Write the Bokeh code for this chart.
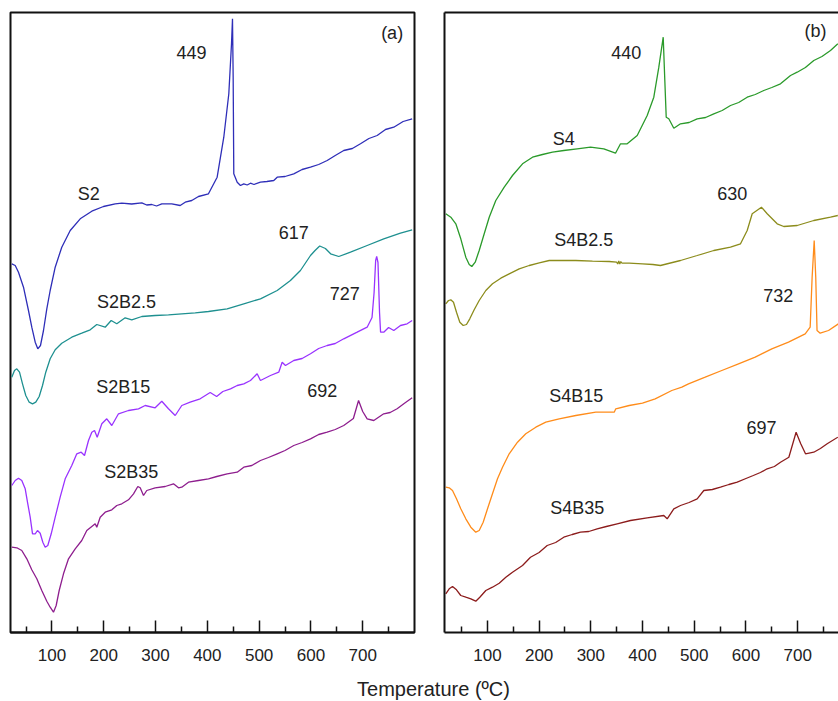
from bokeh.plotting import figure
from bokeh.models import FixedTicker, LinearAxis, Label
from bokeh.layouts import column, row
from bokeh.embed import file_html
from bokeh.resources import INLINE
from bokeh.core.properties import value

FONT = "Liberation Sans"

# ---------------- data (temperature in ºC, DTA signal in arbitrary units, curves offset) -------------
major_ticks = [100, 200, 300, 400, 500, 600, 700]
minor_ticks = [50, 150, 250, 350, 450, 550, 650, 750]

# Panel (a)
S2_T = [22.5, 29.1, 35.4, 45.1, 54.7, 61.1, 67.7, 72.7, 77.9, 83.7, 90.1, 96.6, 106.3, 119, 135.3,
        154.6, 177, 199.5, 222.1, 234.9, 254, 273.5, 283, 292.8, 302, 312.1, 331.4, 347.6, 357.3,
        370, 382.9, 402.2, 419, 431.8, 441.5, 446.7, 448.6, 449.9, 451.1, 457.7, 464, 470.4, 477,
        483.3, 490, 502.6, 515, 528.3, 534.9, 550, 566.9, 583, 599.2, 615, 631.4, 647, 663.4, 680,
        695.7, 712, 727.9, 744, 760, 778, 795.5]
S2_y = [368.7, 367, 360.3, 345.3, 322, 305.3, 290.3, 283.7, 287, 302, 323.7, 342, 365.3, 385.3, 402,
        413.7, 421.3, 426, 428.7, 429.3, 428.5, 429.7, 427.5, 428, 426.5, 428.7, 428.7, 427, 430.3,
        432, 436, 438.7, 455.3, 495.3, 538.7, 588.7, 613.7, 555.3, 458.7, 450.3, 447, 448.7, 447.5,
        449.3, 448, 450.3, 451, 452, 455.3, 456, 458.7, 463, 465.3, 468, 472, 477, 482, 484,
        488.7, 494, 497, 503, 505.3, 511, 513.7]

S2B25_T = [22.5, 27.7, 32.2, 37.4, 43.2, 49.5, 56.1, 62.5, 68.8, 75.4, 81.8, 88.1, 96.6, 106.3, 119,
           138.3, 157.6, 173.9, 186.6, 202.8, 214.4, 225.2, 241.4, 254.2, 273.5, 299.3, 325, 350.7,
           376.6, 402.2, 438.3, 470.4, 502.6, 534.9, 560.5, 579.8, 599.2, 608, 617, 628, 638,
           653.8, 676.4, 708.6, 740.6, 772.9, 795.5]
S2B25_y = [255.3, 262, 263.7, 260.3, 248.7, 237, 230.3, 228.7, 230.3, 236, 247, 260.3, 273.7, 282.7,
           289.3, 295.3, 299.3, 302.7, 308, 305.3, 312, 308.7, 314.7, 312.7, 316, 317, 317.7, 318.7,
           319.7, 321, 323.7, 328.7, 333.7, 342, 352, 362, 377, 382, 386.5, 384, 378.7,
           376, 380.3, 387, 393.7, 399.3, 402.7]

S2B15_T = [22.5, 29.1, 35.4, 41.8, 48.4, 53.4, 58, 62.5, 67.7, 72.1, 77.3, 82.4, 87, 92, 98.6,
           106.3, 115.9, 125.6, 138.3, 148, 156.5, 162.9, 170.6, 177, 182.2, 187.4, 196.3, 205.9,
           215.6, 228.5, 247.8, 267.1, 280, 299.3, 312.1, 325, 338, 350.7, 366.9, 386.2, 405.5,
           418, 430, 444.7, 457.7, 470.4, 483.3, 496.2, 502.6, 521.9, 537.9, 544.5, 550.9, 566.9,
           583, 599.2, 615, 631.4, 647, 663.4, 689.3, 708.6, 718, 722, 725, 727, 729.5, 732.5,
           734.5, 740.6, 750, 760, 772.9, 785.8, 795.5]
S2B15_y = [147, 152, 154.3, 152, 143.7, 128.7, 115.3, 98.7, 98.7, 102, 99.3, 90.3, 85.3, 87, 98.7,
           115.3, 135.3, 153.7, 167, 178.7, 180.3, 177, 192, 200.3, 202, 195.3, 208.7, 213.7,
           207, 218.7, 222, 223.7, 227, 224.7, 231.3, 223.7, 217, 227, 230.3, 233.7, 240,
           236, 241, 243.7, 247, 248.7, 252, 258.7, 252, 257, 260.3, 270.3, 267, 272,
           274, 278.7, 284, 287, 289, 293.7, 300.3, 305.3, 315, 340, 372, 376, 370, 320,
           300.3, 300.3, 305, 302, 307, 308.7, 312]

S2B35_T = [22.5, 32.2, 41.8, 51.5, 61.1, 70.8, 80.4, 90.1, 96.6, 103, 108.2, 114, 122.3, 132, 144.9,
           157.6, 167.3, 177, 183.5, 186.6, 193.2, 202.8, 215.6, 225.2, 234.9, 247.8, 257.5, 265.8,
           270.4, 276.8, 283.1, 299.3, 318.6, 334.7, 344.3, 350.7, 363.6, 382.9, 402.2, 418.3,
           438.3, 457.7, 470.4, 486, 502.6, 518, 534.9, 550, 566.9, 583, 599.2, 615, 631.4, 647,
           663.4, 682, 692, 700, 708.6, 721.4, 740.6, 753, 766.4, 780, 795.5]
S2B35_y = [85.3, 84.7, 82, 73.7, 62.7, 53.7, 42, 31.3, 25.3, 20.3, 27, 42, 58.7, 73.7, 83.7,
           92, 102, 106, 108.7, 105.3, 115.3, 120.3, 122.7, 127, 128.7, 132.7, 138.7, 146,
           144.7, 137, 142, 144.7, 146, 148.7, 144.7, 145.3, 150.3, 152, 153.7, 156,
           158.7, 160.3, 165.3, 167, 172, 175, 178.7, 182, 187, 190, 193.7, 198, 200.3, 203,
           207, 214, 232, 221, 213.7, 212, 218.7, 220, 223.7, 229, 234.7]

# Panel (b)
S4_T = [19.5, 29.2, 38.9, 48.5, 58.2, 64.8, 69.8, 76.4, 84.1, 93.8, 103.5, 116.2, 132.5, 148.5,
        167.9, 187.2, 206.5, 225.9, 247.7, 273.6, 299.4, 325.1, 347.7, 357.4, 370.3, 389.7, 409,
        421.8, 431.5, 440, 443.1, 445.8, 450.8, 460.5, 473.4, 490, 505.7, 522, 537.8, 554, 570.1,
        586, 602.4, 618, 634.5, 650, 666.8, 686.2, 699.1, 715, 731.2, 747, 763.5, 777.7]
S4_y = [418.7, 415.3, 408.7, 393.7, 375.3, 368, 366, 370.3, 382, 398.7, 415.3, 432, 445.3, 457,
        468.7, 475.3, 478, 480.3, 482, 483.7, 485.3, 483.7, 479.3, 488.7, 488.7, 497, 517,
        535.3, 565.3, 595.3, 552, 515.3, 513.7, 504.3, 508.7, 510, 513.7, 515, 518.7, 522, 527,
        530, 535.3, 538, 542, 545, 548.7, 557, 560.3, 565, 572, 576, 582, 588.7]

S4B25_T = [19.5, 24.7, 29.2, 34.4, 40.2, 46.6, 53.2, 59.5, 65.9, 74.4, 84.1, 96.9, 109.8, 125.9,
           142.1, 161.5, 180.8, 200.2, 219.5, 238.8, 270.9, 303.2, 335.5, 350, 352, 354, 356, 358,
           360, 374.2, 399.9, 420, 434.7, 450, 473.4, 505.7, 537.8, 570.1, 589.5, 602.4, 612.1, 630,
           641.1, 660.4, 673.2, 699.1, 731.2, 763.5, 777.7]
S4B25_y = [328.7, 332, 332.7, 330.3, 320.3, 310.3, 307, 308, 313.7, 322.7, 332, 342, 348.7, 354.3,
           358.7, 363.7, 367, 369.7, 372, 372, 372, 371.3, 371, 370.3, 368.5, 371.5, 368.5, 371,
           369.5, 369.3, 368.7, 368, 367, 369, 372, 377, 382, 385.3, 388.7, 402, 418.7, 425.3,
           418.7, 408.7, 406, 407, 412, 415.3, 417]

S4B15_T = [19.5, 26.1, 32.5, 40.2, 48.5, 58.2, 67.9, 77.5, 84.1, 91.8, 100.2, 109.8, 119.5, 129.2,
           142.1, 158.2, 174.2, 193.6, 212.9, 238.8, 270.9, 309.6, 345.2, 348.3, 374.2, 399.9, 424.5,
           456.6, 476, 488.9, 521.2, 553.3, 585.6, 617.9, 650, 682.3, 714.6, 724.2, 728, 732, 735,
           737.5, 743.6, 759.7, 779]
S4B15_y = [145.3, 144.7, 142, 133.7, 123.7, 113.7, 105.3, 100.3, 102, 110.3, 123.7, 138.7, 153.7,
           165.3, 178.7, 190.3, 198.7, 205.3, 210.3, 213.7, 217, 220.3, 220.3, 223.7, 227, 229.3,
           233.7, 242, 245.3, 248.7, 255.3, 262, 268.7, 275.3, 283.7, 290.3, 298.7, 305.3, 355.3,
           392, 355.3, 302, 299.3, 302, 308.7]

S4B35_T = [19.5, 26.1, 32.5, 40.2, 48.5, 58.2, 67.9, 77.5, 85.3, 96.9, 109.8, 122.8, 135.6, 148.5,
           167.9, 183.3, 200, 215.6, 232, 247.7, 264, 280, 296, 312.3, 330, 351, 376.7, 409, 441.1,
           447.7, 460.5, 473.4, 490, 505.7, 518.5, 535, 550.8, 567, 583.1, 600, 614.2, 628, 641.1,
           655, 666.8, 683, 697, 706, 715.2, 731.2, 744, 757.1, 777.7]
S4B35_y = [38.7, 43.7, 46, 42.7, 37, 35.3, 33.7, 31.3, 35.3, 42, 45.3, 49.3, 55.3, 60.3,
           67, 75.3, 80, 87, 90, 95.3, 98, 100.3, 101, 103.7, 106, 108.7, 112, 114.7, 117,
           113.7, 123.7, 127, 130, 133.7, 142, 143, 145.3, 148, 150.3, 154, 157, 160, 163.7,
           166, 170.3, 175.3, 200.3, 188.7, 178.7, 180.3, 184, 188.7, 195.3]

labels_a_text = ["449", "S2", "617", "S2B2.5", "727", "S2B15", "692", "S2B35", "(a)"]
labels_a_x = [369.5, 171.2, 567, 244, 665.4, 237.5, 621.7, 253, 756.8]
labels_a_y = [580, 438.7, 400.3, 330.3, 338.7, 245.3, 242, 160.3, 600]

labels_b_text = ["440", "S4", "630", "S4B2.5", "732", "S4B15", "697", "S4B35", "(b)"]
labels_b_x = [368.4, 247.7, 573.4, 286.4, 662.4, 271.7, 630.1, 273.6, 734.5]
labels_b_y = [580.3, 493.7, 438.7, 392.7, 337, 237, 205.3, 124.7, 602]

x_label = "Temperature (ºC)"

series_a = [(S2_T, S2_y, "#2e2eb8"), (S2B25_T, S2B25_y, "#1e9090"),
            (S2B15_T, S2B15_y, "#9933ff"), (S2B35_T, S2B35_y, "#8e1e8e")]
series_b = [(S4_T, S4_y, "#2a9a2a"), (S4B25_T, S4B25_y, "#8c8c1c"),
            (S4B15_T, S4B15_y, "#ff8c1a"), (S4B35_T, S4B35_y, "#8c1c1c")]

FRAME = "#111111"


def style_xaxis(ax):
    ax.ticker = FixedTicker(ticks=major_ticks, minor_ticks=minor_ticks)
    ax.axis_line_width = 2
    ax.axis_line_color = FRAME
    ax.major_tick_in = 12
    ax.major_tick_out = 0
    ax.minor_tick_in = 6
    ax.minor_tick_out = 0
    ax.major_tick_line_width = 1.5
    ax.minor_tick_line_width = 1.5
    ax.major_tick_line_color = FRAME
    ax.minor_tick_line_color = FRAME
    ax.major_label_text_font = FONT
    ax.major_label_text_font_size = "17px"
    ax.major_label_text_color = "#222222"
    ax.major_label_standoff = 16


def bare_axis():
    return LinearAxis(ticker=FixedTicker(ticks=[], minor_ticks=[]),
                      axis_line_width=2, axis_line_color=FRAME,
                      major_tick_line_color=None, minor_tick_line_color=None,
                      major_tick_in=0, major_tick_out=0, minor_tick_in=0, minor_tick_out=0,
                      major_label_standoff=0, axis_label_standoff=0)


def make_panel(width, xr, mbl, mbr, series, lt, lx, ly, outline):
    p = figure(width=width, height=670, x_range=xr, y_range=(0, 620),
               output_backend="svg", toolbar_location=None, y_axis_location=None,
               min_border_left=mbl, min_border_right=mbr, min_border_top=12, min_border_bottom=38)
    p.xgrid.visible = False
    p.ygrid.visible = False
    p.background_fill_color = "white"
    p.border_fill_color = "white"
    style_xaxis(p.below[0])
    if outline:
        p.outline_line_color = FRAME
        p.outline_line_width = 2
    else:
        p.outline_line_color = None
        p.add_layout(bare_axis(), "left")
        p.add_layout(bare_axis(), "above")
    for xs, ys, col in series:
        p.line(xs, ys, line_color=col, line_width=1.3)
    p.text(x=lx, y=ly, text=lt, text_font=value(FONT), text_font_size="18px",
           text_align="center", text_baseline="middle", text_color="#222222")
    return p


pa = make_panel(429, (20, 800), 10, 15, series_a, labels_a_text, labels_a_x, labels_a_y, True)
pb = make_panel(409, (17, 779), 15, 0, series_b, labels_b_text, labels_b_x, labels_b_y, False)

pl = figure(width=838, height=31, x_range=(0, 838), y_range=(0, 31), output_backend="svg",
            toolbar_location=None, x_axis_location=None, y_axis_location=None,
            min_border=0, outline_line_color=None)
pl.xgrid.visible = False
pl.ygrid.visible = False
pl.add_layout(Label(x=433, y=13, x_units="screen", y_units="screen", text=x_label,
                    text_font=FONT, text_font_size="20px", text_color="#222222",
                    text_align="center", text_baseline="middle"))

layout = column(row(pa, pb), pl)
open("out.html", "w").write(file_html(layout, INLINE))
